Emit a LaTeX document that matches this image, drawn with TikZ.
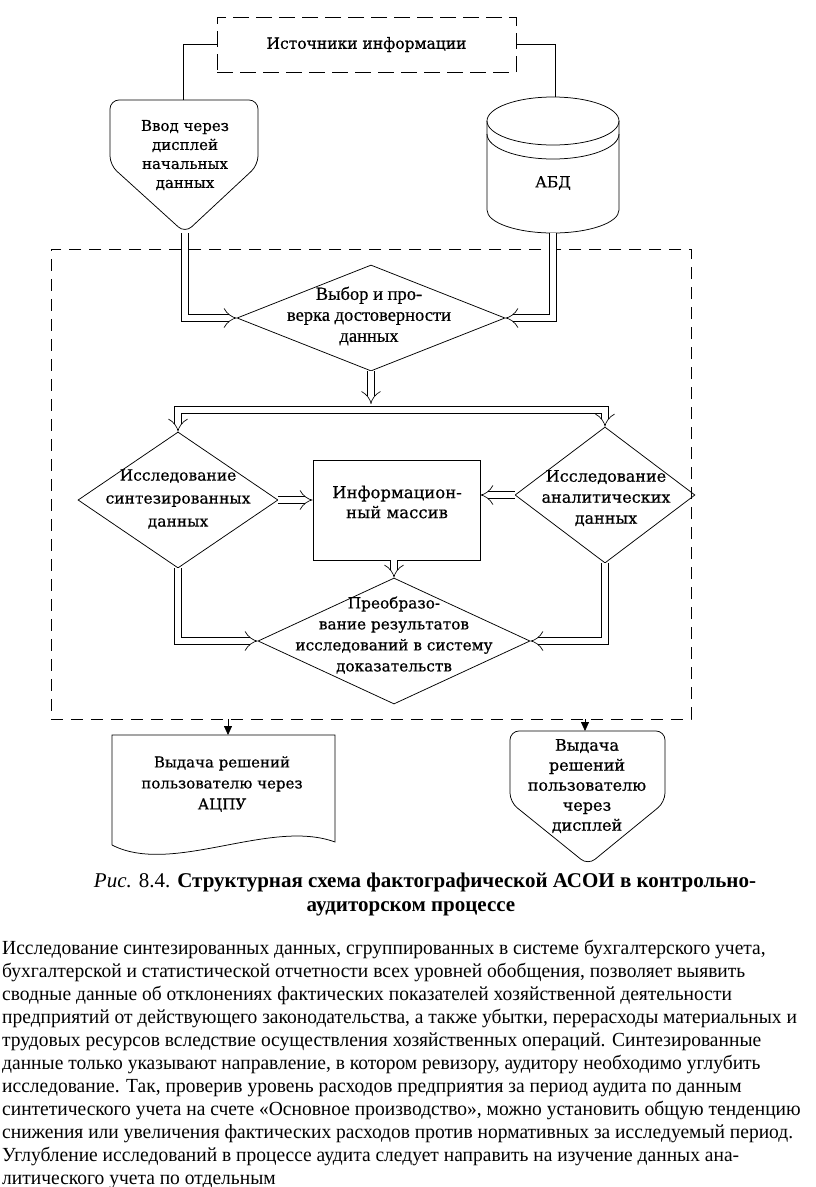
\documentclass[tikz,border=0pt]{standalone}
\usepackage{fontspec}
\setmainfont{Liberation Serif}
\newfontfamily\djv[FakeBold=0.6]{DejaVu Serif}
\newfontfamily\tms[FakeBold=0.6]{Liberation Serif}
\newfontfamily\bodyf[FakeStretch=0.975]{Liberation Serif}
\usetikzlibrary{arrows.meta,shapes.geometric}
\begin{document}
\begin{tikzpicture}[x=1pt,y=-1pt,
  every node/.style={inner sep=0pt},
  ln/.style={line width=0.75pt},
  dia/.style={draw, diamond, inner sep=0pt, line width=0.75pt},
  dbl/.style={double, double distance=6.5pt, line width=0.65pt, -{Implies}},
  lab/.style={align=center, font=\djv\fontsize{15}{19}\selectfont},
  labt/.style={align=center, font=\tms\fontsize{18.5}{21}\selectfont},
  body/.style={anchor=base west, font=\bodyf\fontsize{20}{23}\selectfont},
  outarrow/.style={line width=0.75pt, -{Triangle[length=9pt,width=8pt]}}
]
\useasboundingbox (0,0) rectangle (816,1187);

% source box
\node[draw, dash pattern=on 16pt off 7pt, line width=0.75pt, minimum width=299pt, minimum height=55pt,
      font=\djv\fontsize{15.5}{19}\selectfont] (src) at (366.5,44.5) {Источники информации};

% input display shape
\draw[ln, rounded corners=9pt] (184,100) -- (258,100) -- (258,165) -- (185,233) -- (110,165) -- (110,100) -- cycle;
\node[lab] (inp) at (185,155) {Ввод через\\дисплей\\начальных\\данных};
\coordinate (inptop) at (183,100);
\coordinate (inptip) at (185,233);

% database cylinder
\draw[ln] (553,121) ellipse [x radius=66, y radius=24];
\draw[ln] (487,134) arc[start angle=180, end angle=0, x radius=66, y radius=25];
\draw[ln] (487,121) -- (487,210) arc[start angle=180, end angle=0, x radius=66, y radius=23] -- (619,121);
\node[font=\djv\fontsize{15.5}{19}\selectfont] (abd) at (553,183) {АБД};
\coordinate (abdtop) at (555,97);
\coordinate (abdbot) at (553,233);

% connectors from sources
\draw[ln] (src.west) -| (inptop);
\draw[ln] (src.east) -| (abdtop);

% main dashed frame
\node[draw, dash pattern=on 12pt off 8pt, line width=0.75pt, minimum width=640pt, minimum height=470pt] (frame) at (371,484) {};

% diamonds and box
\node[dia, minimum width=268pt, minimum height=106pt] (d1) at (371,318) {};
\node[labt] (t1) at (369,316) {Выбор и про-\\верка достоверности\\данных};

\node[dia, minimum width=200pt, minimum height=136pt] (d2) at (178,500) {};
\node[lab, font=\djv\fontsize{15.5}{23}\selectfont] (t2) at (178,499) {Исследование\\синтезированных\\данных};

\node[dia, minimum width=180pt, minimum height=136pt] (d3) at (605,495) {};
\node[lab, font=\djv\fontsize{16}{21}\selectfont] (t3) at (606,498) {Исследование\\аналитических\\данных};

\node[draw, line width=0.75pt, minimum width=167pt, minimum height=100pt] (box) at (396.5,510) {};
\node[lab, font=\djv\fontsize{16.5}{20}\selectfont] (tb) at (397,502) {Информацион-\\ный массив};

\node[dia, minimum width=272pt, minimum height=126pt] (d4) at (394,641) {};
\node[lab, font=\djv\fontsize{15.3}{21}\selectfont] (t4) at (394,635) {Преобразо-\\вание результатов\\исследований в систему\\доказательств};

% double arrows
\draw[dbl] (inptip) |- (d1.west);
\draw[dbl] (abdbot) |- (d1.east);
\coordinate (barY) at (0,410);
\draw[dbl] (d1.south) -- (d1.south |- 0,404);
\draw[double, double distance=6.5pt, line width=0.65pt, {Implies}-{Implies}]
  (d2.north) -- (d2.north |- barY) -- (d3.north |- barY) -- (d3.north);
\draw[dbl] (d2.east) -- (d2.east -| box.west);
\draw[dbl] (d3.west) -- (d3.west -| box.east);
\draw[dbl] (box.south -| d4.north) -- (d4.north);
\draw[dbl] (d2.south) |- (d4.west);
\draw[dbl] (d3.south) |- (d4.east);

% output: document shape
\draw[ln] (112,845) -- (112,735) -- (335,735) -- (335,842) .. controls (270,818) and (172,876) .. (112,845);
\node[lab, font=\djv\fontsize{15}{21}\selectfont] (outdoc) at (222,784) {Выдача решений\\пользователю через\\АЦПУ};
\coordinate (doctop) at (228,735);

% output: display shape
\draw[ln, rounded corners=9pt] (588,731) -- (665,731) -- (665,802) -- (588,865) -- (510,802) -- (510,731) -- cycle;
\node[lab, font=\djv\fontsize{16}{20}\selectfont] (outdisp) at (587,786) {Выдача\\решений\\пользователю\\через\\дисплей};
\coordinate (disptop) at (585,731);

\draw[outarrow] (frame.south -| doctop) -- (doctop);
\draw[outarrow] (frame.south -| disptop) -- (disptop);

% caption
\node[anchor=base, font=\fontsize{21}{24}\selectfont] (cap1) at (425,887)
  {\textit{Рис.} 8.4. \textbf{Структурная схема фактографической АСОИ в контрольно-}};
\node[anchor=base, font=\fontsize{21}{24}\selectfont] (cap2) at (411,911)
  {\textbf{аудиторском процессе}};

% body text
\node[body] (b1) at (2,954) {Исследование синтезированных данных, сгруппированных в системе бухгалтерского учета,};
\node[body] (b2) at (2,977) {бухгалтерской и статистической отчетности всех уровней обобщения, позволяет выявить};
\node[body] (b3) at (2,1000) {сводные данные об отклонениях фактических показателей хозяйственной деятельности};
\node[body] (b4) at (2,1023) {предприятий от действующего законодательства, а также убытки, перерасходы материальных и};
\node[body] (b5) at (2,1046) {трудовых ресурсов вследствие осуществления хозяйственных операций. Синтезированные};
\node[body] (b6) at (2,1069) {данные только указывают направление, в котором ревизору, аудитору необходимо углубить};
\node[body] (b7) at (2,1092) {исследование. Так, проверив уровень расходов предприятия за период аудита по данным};
\node[body] (b8) at (2,1115) {синтетического учета на счете «Основное производство», можно установить общую тенденцию};
\node[body] (b9) at (2,1138) {снижения или увеличения фактических расходов против нормативных за исследуемый период.};
\node[body] (b10) at (2,1161) {Углубление исследований в процессе аудита следует направить на изучение данных ана-};
\node[body] (b11) at (2,1184) {литического учета по отдельным};
\end{tikzpicture}
\end{document}
